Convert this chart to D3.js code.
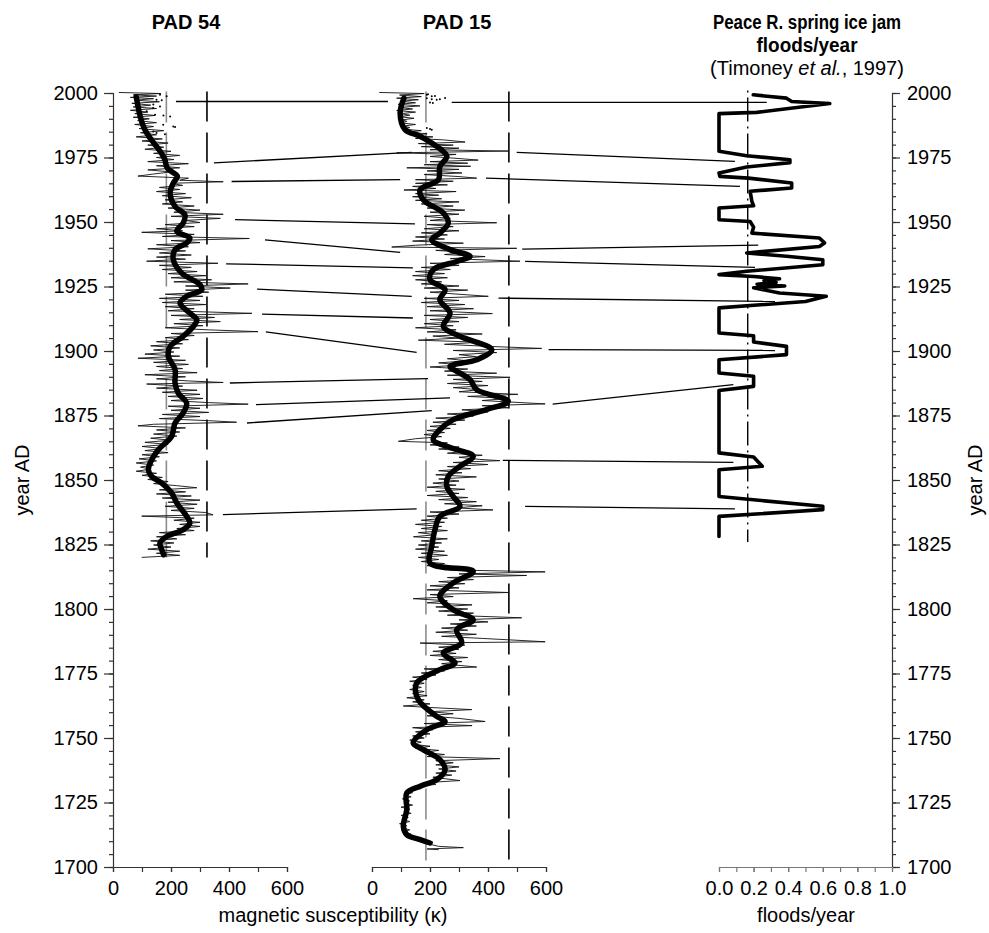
<!DOCTYPE html>
<html>
<head>
<meta charset="utf-8">
<script src="https://cdn.jsdelivr.net/npm/d3@7"></script>
<style>
  html, body { margin: 0; padding: 0; background: #fff; }
  svg text { font-family: "Liberation Sans", Arial, Helvetica, sans-serif; fill: #000; }
</style>
</head>
<body>
<svg id="chart" width="989" height="933"></svg>
<script>
// ---- data -------------------------------------------------------------
const yearTicks = d3.range(1700, 2001, 25);
const yearMinorTicks = d3.range(1700, 2001, 5);
const kappaTicks = [0, 200, 400, 600];
const kappaMinorTicks = d3.range(0, 601, 100);
const floodTicks = [0, 0.2, 0.4, 0.6, 0.8, 1.0];
const floodMinorTicks = d3.range(0, 1.001, 0.1);

// PAD 54 magnetic susceptibility, raw record [year AD, kappa]
const pad54Raw = [
  [2000.2,20],[1999.8,165],[1999.3,70],[1998.8,150],[1998.3,60],[1997.8,140],[1997.2,75],[1996.6,160],
  [1996,65],[1995.3,130],[1994.6,70],[1994,150],[1993.3,60],[1992.6,120],[1992,75],[1991.3,145],
  [1990.6,70],[1990,125],[1989.3,85],[1988.5,150],[1987.8,75],[1987,140],[1986.2,90],[1985.4,175],
  [1984.6,95],[1983.8,150],[1983,80],[1982.2,170],[1981.4,100],[1980.6,190],[1979.8,120],[1979,175],
  [1978.2,110],[1977.4,200],[1976.6,140],[1975.8,230],[1975,150],[1974.2,210],[1973.4,120],[1972.6,260],
  [1971.8,150],[1971,230],[1970.2,120],[1969.4,200],[1968.6,140],[1967.8,86],[1967,260],[1966.2,230],
  [1965.6,380],[1965,200],[1964.2,240],[1963.4,160],[1962.6,230],[1961.8,150],[1961,250],[1960.2,170],
  [1959.4,270],[1958.6,180],[1957.8,240],[1957,170],[1956.2,280],[1955.4,190],[1954.6,300],[1953.8,210],
  [1953,380],[1952.2,200],[1951.4,370],[1950.6,250],[1949.8,300],[1949,180],[1948.2,280],[1947.4,150],
  [1946.6,240],[1946,99],[1945.2,280],[1944.4,170],[1943.6,470],[1942.8,200],[1942,300],[1941.2,150],
  [1940.4,260],[1939.6,120],[1938.8,250],[1938,160],[1937.2,270],[1936.4,150],[1935.6,250],[1934.8,116],
  [1934,362],[1933.2,160],[1932.4,270],[1931.6,170],[1930.8,290],[1930,190],[1929.2,320],[1928.4,200],
  [1927.6,340],[1926.8,210],[1926,466],[1925.2,250],[1924.4,404],[1923.6,250],[1922.8,330],[1922,180],
  [1921.2,310],[1920.4,160],[1919.6,300],[1918.8,170],[1918,320],[1917.2,180],[1916.4,280],[1915.6,190],
  [1914.6,479],[1913.8,200],[1913,350],[1912.2,230],[1911.4,370],[1910.6,210],[1909.8,310],[1909,180],
  [1908.2,330],[1907.5,500],[1906.8,200],[1906,280],[1905.2,180],[1904.4,260],[1903.6,150],[1902.8,240],
  [1902,130],[1901.2,230],[1900.4,140],[1899.6,210],[1898.8,110],[1898,230],[1897.2,86],[1896.4,250],
  [1895.6,140],[1894.8,260],[1894,150],[1893.2,240],[1892.4,160],[1891.6,290],[1890.8,110],[1890,250],
  [1889.2,150],[1888.4,260],[1887.8,380],[1887.2,116],[1886.4,240],[1885.6,150],[1884.8,290],[1884,170],
  [1883.2,300],[1882.4,190],[1881.6,310],[1880.8,200],[1880,330],[1879.4,466],[1878.6,190],[1877.8,300],
  [1877,200],[1876.2,330],[1875.4,170],[1874.6,300],[1873.8,160],[1873,330],[1872.4,426],[1871.6,140],
  [1871,86],[1870.2,250],[1869.4,150],[1868.6,230],[1867.8,140],[1867,220],[1866.2,130],[1865.4,200],
  [1864.6,110],[1863.8,190],[1863,100],[1862.2,170],[1861.4,110],[1860.6,190],[1859.8,100],[1859,160],
  [1858.2,90],[1857.4,150],[1856.6,80],[1855.8,140],[1855,95],[1854.2,130],[1853.4,80],[1852.6,150],
  [1851.8,100],[1851,170],[1850.2,120],[1849.4,190],[1848.6,140],[1847.8,220],[1847,289],[1846.2,160],
  [1845.4,250],[1844.6,150],[1843.8,270],[1843,170],[1842.2,300],[1841.4,190],[1840.6,290],[1839.8,180],
  [1839,280],[1838.2,200],[1837.4,320],[1836.5,345],[1836,99],[1835.2,280],[1834.4,210],[1833.6,300],
  [1832.8,230],[1832,300],[1831.2,220],[1830.4,280],[1829.6,160],[1828.8,250],[1828,150],[1827.2,220],
  [1826.4,130],[1825.6,210],[1824.8,140],[1824,200],[1823.2,120],[1822.4,230],[1821.6,150],[1820.8,230],
  [1820,99]
];

// PAD 54 smoothed record [year AD, kappa]
const pad54Smooth = [
  [1998.5,80],[1995,86],[1992.2,91],[1988.5,100],[1985.8,110],[1982.5,128],[1979.3,150],[1976.5,168],[1974.1,179],
  [1970.9,187],[1967.7,222],[1965.1,208],[1961.2,197],[1956,214],[1952.8,248],[1949.6,242],
  [1946.4,220],[1943.8,265],[1941.9,254],[1939.3,214],[1935.4,208],[1930.2,237],[1925.7,300],
  [1923.8,306],[1921.2,254],[1918.6,231],[1914.7,265],[1912.1,289],[1909.5,277],[1905.7,242],
  [1901.8,197],[1897.9,191],[1892.8,214],[1887.6,214],[1883.7,225],[1879.8,254],[1876,242],
  [1872.1,214],[1866.9,202],[1861.7,156],[1856.6,128],[1854,122],[1851.4,133],[1848.8,168],
  [1845,202],[1841.1,220],[1835.9,254],[1833.3,265],[1830.7,242],[1828.1,185],[1825.6,162],
  [1823,168],[1821,175]
];

// PAD 54 isolated samples near the core top [year AD, kappa]
const pad54Dots = [
  [1999.3,162],[1998.7,185],[1997.4,150],[1997.2,168],[1995.5,139],[1994.8,162],[1994.2,138],
  [1992.9,116],[1991.6,145],[1991.3,174],[1990.9,197],[1987.7,173],[1987,208],[1986.8,214],
  [1985.1,139],[1984.5,150],[1984,179]
];

// PAD 15 magnetic susceptibility, raw record [year AD, kappa]
const pad15Raw = [
  [2000.2,25],[1999.8,180],[1999.2,95],[1998.6,170],[1998,85],[1997.4,160],[1996.8,100],[1996.2,150],
  [1995.6,90],[1995,165],[1994.4,95],[1993.8,140],[1993.2,85],[1992.6,150],[1992,100],[1991.4,130],
  [1990.8,95],[1990.2,145],[1989.6,105],[1989,120],[1988.4,100],[1987.8,150],[1987.2,110],[1986.6,130],
  [1986,105],[1985.4,170],[1984.8,115],[1984.2,190],[1983.6,140],[1983,210],[1982.4,150],[1981.8,250],
  [1981,321],[1980.4,160],[1979.8,280],[1979.2,170],[1978.6,300],[1978,200],[1977.5,469],[1976.8,85],
  [1976.2,290],[1975.4,200],[1974.6,300],[1974,366],[1973.4,200],[1972.8,330],[1972.2,180],[1971.6,340],
  [1971,120],[1970.4,300],[1969.8,190],[1969,310],[1968.4,180],[1967.6,300],[1967,361],[1966.4,150],
  [1965.8,280],[1965,150],[1964.4,260],[1963.8,140],[1963,220],[1962.4,110],[1961.8,290],[1961,150],
  [1960.4,230],[1959.8,140],[1959,240],[1958.4,150],[1957.8,300],[1957,170],[1956.2,280],[1955.4,190],
  [1954.6,320],[1953.8,200],[1953,300],[1952.2,180],[1951.4,270],[1950.6,200],[1949.7,430],[1949,190],
  [1948.2,280],[1947.4,180],[1946.6,300],[1945.8,170],[1945,260],[1944.2,150],[1943.4,250],[1942.6,140],
  [1941.8,315],[1941,150],[1940.3,68],[1939.8,499],[1939,220],[1938.2,330],[1937.4,250],[1936.6,390],
  [1935.8,270],[1934.8,510],[1934,200],[1933.2,300],[1932.4,170],[1931.6,270],[1930.8,150],[1930,250],
  [1929.2,140],[1928.4,260],[1927.6,150],[1926.8,240],[1926,170],[1925.2,300],[1924.4,180],[1923.6,330],
  [1922.8,200],[1922,300],[1921.2,401],[1920.4,180],[1919.6,300],[1918.8,170],[1918,320],[1917.2,190],
  [1916.4,350],[1915.6,200],[1914.5,415],[1913.8,180],[1913,330],[1912.2,200],[1911.4,300],[1910.6,180],
  [1909.8,280],[1909,150],[1908.2,290],[1907.4,190],[1906.6,380],[1905.8,210],[1905,300],[1904.2,160],
  [1903.4,370],[1902.6,250],[1901.8,400],[1901,585],[1900.2,280],[1899.4,430],[1898.6,300],[1897.8,360],
  [1897,260],[1896.2,330],[1895.4,230],[1894.6,310],[1893.8,200],[1893,330],[1892.2,250],[1891.4,430],
  [1890.6,260],[1889.8,476],[1889,280],[1888.2,380],[1887.4,260],[1886.6,400],[1885.8,280],[1885,370],
  [1884.2,300],[1883.2,503],[1882.4,330],[1881.6,470],[1880.8,380],[1879.5,597],[1878.8,380],[1878,470],
  [1877.2,310],[1876.4,400],[1875.6,260],[1874.8,350],[1874,220],[1873.2,320],[1872.4,210],[1871.6,290],
  [1870.8,200],[1870,270],[1869.2,190],[1868.4,250],[1867.6,180],[1866.8,240],[1866,150],[1865,91],
  [1864.4,260],[1863.6,200],[1862.8,300],[1862,230],[1861.2,330],[1860.4,260],[1859.6,380],[1858.8,300],
  [1858,370],[1857.5,441],[1856.8,280],[1856,400],[1855.2,260],[1854.4,340],[1853.6,230],[1852.8,310],
  [1852,220],[1851.2,360],[1850.4,230],[1849.6,300],[1848.8,210],[1848,290],[1847.2,190],[1846.4,320],
  [1845.6,220],[1844.8,300],[1844,190],[1843.2,330],[1842.4,230],[1841.6,360],[1840.8,250],[1840,380],
  [1839.2,290],[1838.4,417],[1837.6,200],[1836.8,300],[1836,190],[1835.2,260],[1834.4,170],[1833.6,250],
  [1832.8,150],[1832,240],[1831.2,170],[1830.4,260],[1829.6,160],[1828.8,220],[1828,143],[1827.2,260],
  [1826.4,170],[1825.6,240],[1824.8,160],[1824,230],[1823.2,150],[1822.4,250],[1821.6,170],[1820.8,260],
  [1820,160],[1819.2,230],[1818.4,170],[1817.6,250],[1816.8,190],[1816,300],[1815.2,250],[1814.4,597],
  [1813.6,300],[1813,533],[1812.2,260],[1811.4,350],[1810.6,230],[1809.8,320],[1809,200],[1808.2,300],
  [1807.4,190],[1806.4,469],[1805.6,200],[1804.8,280],[1804,142],[1803.2,260],[1802.4,190],[1801.6,345],
  [1800.8,220],[1800,330],[1799.2,230],[1798.4,350],[1797.6,260],[1796.6,516],[1795.8,300],[1795,400],
  [1794.2,270],[1793.4,360],[1792.6,240],[1791.8,330],[1791,220],[1790.2,360],[1789.4,240],[1788.6,380],
  [1787.3,597],[1786.8,166],[1786,320],[1785.2,230],[1784.4,300],[1783.6,210],[1782.8,290],[1782,200],
  [1781.2,330],[1780.4,230],[1779.6,310],[1778.8,240],[1777.5,361],[1776.8,180],[1776,250],[1775.2,170],
  [1774.4,220],[1773.6,140],[1772.8,190],[1772,130],[1771.2,180],[1770.4,140],[1769.6,170],[1768.8,130],
  [1768,180],[1767.2,140],[1766.4,190],[1765.6,120],[1764.8,180],[1764,140],[1763.2,200],[1762.4,108],
  [1761.6,240],[1761,344],[1760.2,200],[1759.4,280],[1758.6,190],[1757.6,300],[1756.4,390],[1755.6,180],
  [1754.8,345],[1754,140],[1753.2,210],[1752.4,150],[1751.6,200],[1750.8,140],[1750,180],[1749.2,130],
  [1748.4,170],[1747.6,140],[1746.8,200],[1746,150],[1745.2,230],[1744.4,175],[1743.6,250],[1742.8,190],
  [1742,441],[1741.2,220],[1740.4,280],[1739.6,220],[1738.8,300],[1738,230],[1737.2,290],[1736.4,220],
  [1735.6,275],[1734.8,210],[1733.5,303],[1732.8,200],[1732,220],[1731.2,150],[1730.4,170],[1729.6,120],
  [1728.8,140],[1728,110],[1727.2,135],[1726.4,105],[1725.6,130],[1724.8,110],[1724,140],[1723.2,100],
  [1722.4,130],[1721.6,110],[1720.8,135],[1720,100],[1719.2,125],[1718.4,105],[1717.6,130],[1716.8,95],
  [1716,120],[1715.2,100],[1714.4,130],[1713.6,110],[1712.8,135],[1712,130],[1711.2,160],[1710.4,180],
  [1709.6,210],[1708.8,200],[1708,230],[1707.5,315],[1707,190],[1706.7,230]
];

// PAD 15 smoothed record [year AD, kappa]
const pad15Smooth = [
  [1998,110],[1992.2,97],[1985.8,114],[1983.2,166],[1979.3,223],[1975.4,258],[1971.5,234],
  [1966.4,229],[1962.5,166],[1958.6,177],[1953.5,246],[1949.6,263],[1945.7,234],[1943.1,206],
  [1939.3,269],[1936.7,338],[1934.7,292],[1931.5,211],[1927.6,200],[1923.8,252],[1919.9,234],
  [1914.7,269],[1909.5,246],[1905.7,303],[1900.5,413],[1896.6,361],[1894,269],[1891.5,303],
  [1888.9,338],[1885,361],[1880.5,470],[1877.3,395],[1873.4,280],[1869.5,234],[1865.6,211],
  [1862.4,275],[1859.2,349],[1855.3,303],[1851.4,263],[1847.5,258],[1843.6,280],[1839.8,303],
  [1835.9,234],[1830.7,217],[1824.3,206],[1817.8,200],[1814.6,349],[1810.1,280],[1804.9,234],
  [1799.7,280],[1795.8,349],[1792,292],[1786.8,309],[1782.9,246],[1779,286],[1776.5,234],
  [1771.3,154],[1764.8,160],[1758.4,223],[1756.4,252],[1753.2,189],[1748.1,142],[1745.5,177],
  [1741.6,234],[1737.7,252],[1733.8,223],[1731.3,166],[1728.7,120],[1722.2,120],[1715.8,108],
  [1712.5,120],[1710.6,166],[1709.3,200]
];

// PAD 15 isolated samples near the core top [year AD, kappa]
const pad15Dots = [
  [1999.5,193],[1999.3,189],[1998.8,217],[1998.7,206],[1998.1,252],[1998,189],[1997.6,206],
  [1997.6,234],[1997.4,223],[1996.3,200],[1996.1,210],[1986.4,189],[1986,200],[1985.8,206]
];

// Peace River spring ice-jam floods per year [year AD, floods/year]
const floodRate = [
  [1999.3,0.198],[1998,0.39],[1996.7,0.42],[1995.9,0.64],[1992.5,0.218],[1992,0],[1977.4,0],
  [1975.7,0.16],[1974.1,0.41],[1973,0.41],[1971.3,0.16],[1969,0],[1967.7,0.005],[1967,0.17],
  [1965.1,0.42],[1963.2,0.42],[1961.9,0.18],[1958,0.19],[1956.3,0.2],[1955.4,0],[1950.9,0],
  [1950.2,0.18],[1948,0.2],[1945.7,0.19],[1943.8,0.58],[1941.9,0.61],[1940.5,0.58],[1938,0.16],
  [1936.7,0.39],[1935.4,0.6],[1933.4,0.6],[1930.9,0.16],[1929.6,0],[1928.9,0.2],[1928,0.35],
  [1927.3,0.26],[1926.6,0.33],[1925.9,0.22],[1925.2,0.38],[1924.5,0.2],[1922.5,0.35],
  [1921.2,0.62],[1919.2,0.5],[1916.7,0],[1907,0],[1905.9,0.2],[1903.5,0.2],[1901.8,0.39],
  [1898.6,0.39],[1896.6,0],[1891.5,0],[1890.2,0.2],[1886.3,0.2],[1884.7,0],[1860.5,0],
  [1858.9,0.2],[1855.3,0.25],[1854,0],[1843.6,0],[1839.8,0.6],[1838.5,0.6],[1835.9,0],[1828.1,0]
];

// reference levels (mean and threshold) for each record
const pad54Mean = 184, pad54Threshold = 324, pad54Span = [1820, 2000.6];
const pad15Mean = 186, pad15Threshold = 472, pad15Span = [1700, 2000.6];
const floodMean = 0.166, floodSpan = [1826, 2001];

// tie lines PAD 54 -> PAD 15: [year on PAD 54, kappa, year on PAD 15, kappa]
const tiesPad54Pad15 = [
  [1996.7,217,1996.7,55],[1972.9,348,1977,137],[1965.7,409,1966.4,97],[1950.9,421,1949.3,148],
  [1943.1,524,1938.2,97],[1933.8,390,1932.2,141],[1924,497,1921.2,137],[1914.3,514,1912.8,141],
  [1907.4,527,1899.5,154],[1887.6,403,1889.3,193],[1879.2,493,1881.8,269],[1872.1,462,1876.9,206],
  [1836.6,379,1838.8,154]
];

// tie lines PAD 15 -> floods: [year on PAD 15, kappa, year on flood record, floods/year]
const tiesPad15Flood = [
  [1996.4,275,1996.4,0.276],[1977,499,1973.5,0.092],[1967,393,1963.8,0.121],[1939.5,518,1941,0.227],
  [1934.7,528,1932.4,0.208],[1920.5,436,1919.2,0.324],[1900.5,609,1900.2,0.324],[1879.4,623,1887,0.083],
  [1857.6,451,1856.8,0.083],[1839.8,528,1838.8,0.092]
];

// panel headings; width is the set length of a condensed line (null = natural)
const titles = [
  { panel: "p54", lines: [{ text: "PAD 54", width: null }] },
  { panel: "p15", lines: [{ text: "PAD 15", width: null }] },
  { panel: "fl", lines: [{ text: "Peace R. spring ice jam", width: 188 }, { text: "floods/year", width: 101 }] }
];

// ---- scales -----------------------------------------------------------
const svg = d3.select("#chart");
const y = d3.scaleLinear().domain([1700, 2000]).range([867, 93]);
const x54 = d3.scaleLinear().domain([0, 600]).range([113, 287]);
const x15 = d3.scaleLinear().domain([0, 600]).range([372, 546]);
const xFl = d3.scaleLinear().domain([0, 1]).range([719, 892]);

const FONT = 20;
const axisColor = "#333";

function styleAxis(g, color) {
  g.select(".domain").attr("stroke", color).attr("stroke-width", 1.2);
  g.selectAll(".tick line").attr("stroke", color).attr("stroke-width", 1.2);
  g.selectAll("text").attr("font-size", FONT).attr("font-family", null).attr("fill", "#000");
}

// ---- year axes --------------------------------------------------------
const leftMinor = svg.append("g").attr("transform", `translate(${x54(0)},0)`)
  .call(d3.axisLeft(y).tickValues(yearMinorTicks).tickSize(4).tickFormat(""));
styleAxis(leftMinor, axisColor);
const leftMajor = svg.append("g").attr("transform", `translate(${x54(0)},0)`)
  .call(d3.axisLeft(y).tickValues(yearTicks).tickSize(9).tickPadding(6).tickFormat(d3.format("d")));
styleAxis(leftMajor, axisColor);
leftMajor.select(".domain").remove();

const rightMinor = svg.append("g").attr("transform", `translate(${xFl(1)},0)`)
  .call(d3.axisRight(y).tickValues(yearMinorTicks).tickSize(4).tickFormat(""));
styleAxis(rightMinor, axisColor);
const rightMajor = svg.append("g").attr("transform", `translate(${xFl(1)},0)`)
  .call(d3.axisRight(y).tickValues(yearTicks).tickSize(8).tickPadding(7).tickFormat(d3.format("d")));
styleAxis(rightMajor, axisColor);
rightMajor.select(".domain").remove();

// ---- bottom axes ------------------------------------------------------
function bottomAxis(scale, majors, minors, fmt, color) {
  const gMin = svg.append("g").attr("transform", `translate(0,${y(1700)})`)
    .call(d3.axisBottom(scale).tickValues(minors).tickSize(5).tickSizeOuter(0).tickFormat(""));
  styleAxis(gMin, color);
  const gMaj = svg.append("g").attr("transform", `translate(0,${y(1700)})`)
    .call(d3.axisBottom(scale).tickValues(majors).tickSize(5).tickPadding(9).tickFormat(fmt));
  styleAxis(gMaj, color);
  gMaj.select(".domain").remove();
}
bottomAxis(x54, kappaTicks, kappaMinorTicks, d3.format("d"), axisColor);
bottomAxis(x15, kappaTicks, kappaMinorTicks, d3.format("d"), axisColor);
bottomAxis(xFl, floodTicks, floodMinorTicks, d3.format(".1f"), "#777");

// ---- reference lines --------------------------------------------------
function vline(scale, value, span, color, dash, width) {
  svg.append("line")
    .attr("x1", scale(value)).attr("x2", scale(value))
    .attr("y1", y(span[1])).attr("y2", y(span[0]))
    .attr("stroke", color).attr("stroke-width", width)
    .attr("stroke-dasharray", dash);
}
vline(x54, pad54Mean, pad54Span, "#8c8c8c", "31,10", 1.6);
vline(x54, pad54Threshold, pad54Span, "#000", "30,11", 1.6);
vline(x15, pad15Mean, pad15Span, "#8c8c8c", "31,10", 1.6);
vline(x15, pad15Threshold, pad15Span, "#000", "30,11", 1.6);
vline(xFl, floodMean, floodSpan, "#000", "2,5,24,5", 1.4);

// ---- tie lines --------------------------------------------------------
svg.append("g").selectAll("line").data(tiesPad54Pad15).join("line")
  .attr("x1", d => x54(d[1])).attr("y1", d => y(d[0]))
  .attr("x2", d => x15(d[3])).attr("y2", d => y(d[2]))
  .attr("stroke", "#000").attr("stroke-width", 1.3);
svg.append("g").selectAll("line").data(tiesPad15Flood).join("line")
  .attr("x1", d => x15(d[1])).attr("y1", d => y(d[0]))
  .attr("x2", d => xFl(d[3])).attr("y2", d => y(d[2]))
  .attr("stroke", "#000").attr("stroke-width", 1.3);

// ---- records ----------------------------------------------------------
function record(xs, raw, smooth, dots) {
  const rawLine = d3.line().x(d => xs(d[1])).y(d => y(d[0]));
  svg.append("path").datum(raw).attr("d", rawLine)
    .attr("fill", "none").attr("stroke", "#111").attr("stroke-width", 0.9)
    .attr("stroke-linejoin", "miter");
  const smoothLine = d3.line().x(d => xs(d[1])).y(d => y(d[0])).curve(d3.curveCatmullRom.alpha(0.5));
  svg.append("path").datum(smooth).attr("d", smoothLine)
    .attr("fill", "none").attr("stroke", "#000").attr("stroke-width", 5.5)
    .attr("stroke-linejoin", "round").attr("stroke-linecap", "round");
  svg.append("g").selectAll("circle").data(dots).join("circle")
    .attr("cx", d => xs(d[1])).attr("cy", d => y(d[0])).attr("r", 1).attr("fill", "#000");
}
record(x54, pad54Raw, pad54Smooth, pad54Dots);
record(x15, pad15Raw, pad15Smooth, pad15Dots);

svg.append("path").datum(floodRate)
  .attr("d", d3.line().x(d => xFl(d[1])).y(d => y(d[0])))
  .attr("fill", "none").attr("stroke", "#000").attr("stroke-width", 3.6)
  .attr("stroke-linejoin", "round").attr("stroke-linecap", "round");

// ---- titles and axis labels ------------------------------------------
const panelCenter = { p54: 186, p15: 457, fl: 807 };
titles.forEach(t => {
  t.lines.forEach((ln, i) => {
    const txt = svg.append("text").attr("x", panelCenter[t.panel]).attr("y", 29 + i * 23)
      .attr("text-anchor", "middle").attr("font-size", FONT).attr("font-weight", "bold").text(ln.text);
    if (ln.width) txt.attr("textLength", ln.width).attr("lengthAdjust", "spacingAndGlyphs");
  });
});
const cite = svg.append("text").attr("x", panelCenter.fl).attr("y", 75)
  .attr("text-anchor", "middle").attr("font-size", FONT);
cite.append("tspan").text("(Timoney ");
cite.append("tspan").attr("font-style", "italic").text("et al.");
cite.append("tspan").text(", 1997)");

svg.append("text").attr("x", 333).attr("y", 922).attr("text-anchor", "middle")
  .attr("font-size", FONT).text("magnetic susceptibility (\u03BA)");
svg.append("text").attr("x", 806).attr("y", 922).attr("text-anchor", "middle")
  .attr("font-size", FONT).text("floods/year");

svg.append("text").attr("transform", "translate(29,480) rotate(-90)")
  .attr("text-anchor", "middle").attr("font-size", FONT).text("year AD");
svg.append("text").attr("transform", "translate(982,480) rotate(-90)")
  .attr("text-anchor", "middle").attr("font-size", FONT).text("year AD");
</script>
</body>
</html>
